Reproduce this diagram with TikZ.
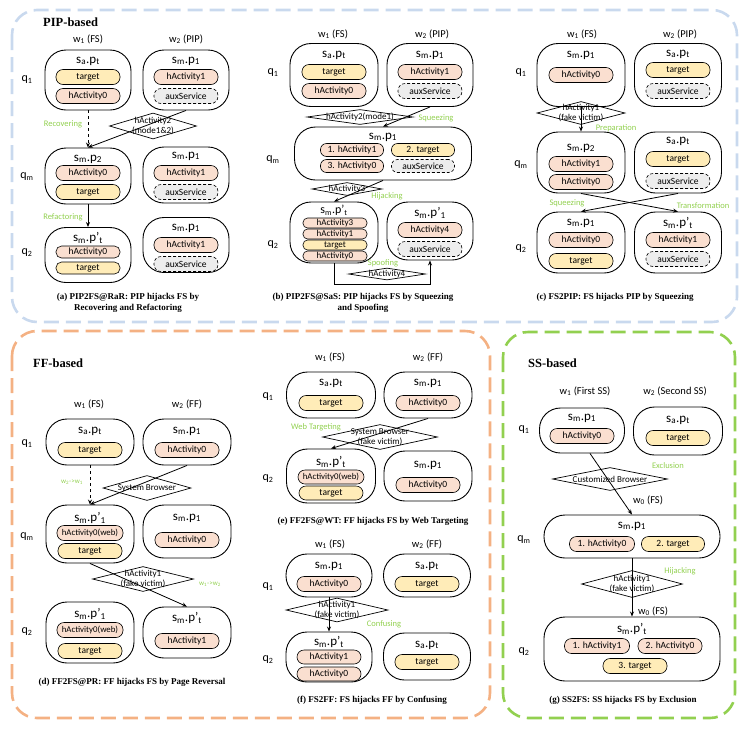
\documentclass[tikz,border=0pt]{standalone}
\usepackage{fontspec}
\setmainfont{Carlito}
\newfontfamily\capfont{Liberation Serif}
\usetikzlibrary{arrows.meta,shapes.geometric}
\definecolor{tgtc}{HTML}{FFECB8}
\definecolor{actc}{HTML}{FADFD0}
\definecolor{auxc}{HTML}{EDEDED}
\definecolor{grn}{HTML}{92D050}
\definecolor{pipc}{HTML}{C9D9EE}
\definecolor{ffc}{HTML}{F4B183}
\definecolor{ssc}{HTML}{92D050}
\newcommand\spx[2]{s\textsubscript{#1}.p\textsubscript{#2}}
\newcommand\sppx[2]{s\textsubscript{#1}.p'\textsubscript{#2}}
\tikzset{
 stbox/.style={draw, line width=0.9pt, rounded corners=21pt, inner sep=0pt},
 pill/.style={draw, line width=0.6pt, rounded corners=7pt, minimum width=64pt, minimum height=15pt, inner sep=0pt, font=\fontsize{9.5}{9.5}\selectfont},
 tg/.style={pill, fill=tgtc},
 ac/.style={pill, fill=actc},
 ax/.style={pill, fill=auxc, dash pattern=on 3pt off 2pt},
 webp/.style={minimum width=66pt, font=\fontsize{8.8}{8.8}\selectfont},
 spill/.style={minimum height=10pt, rounded corners=4.5pt, font=\fontsize{9}{9}\selectfont},
 mpill/.style={minimum height=13pt, rounded corners=6pt},
 ttl/.style={font=\fontsize{13}{13}\selectfont, inner sep=0pt},
 wlab/.style={font=\fontsize{10.5}{10.5}\selectfont, inner sep=0pt},
 qlab/.style={font=\fontsize{12}{12}\selectfont, inner sep=0pt},
 glab/.style={text=grn, font=\fontsize{8.5}{8.5}\selectfont, inner sep=0pt},
 dia/.style={draw, shape=diamond, line width=0.7pt, inner sep=0pt},
 dtx/.style={align=center, font=\fontsize{9}{9.5}\selectfont, inner sep=0pt},
 captxt/.style={align=center, font=\capfont\bfseries\fontsize{9}{11}\selectfont, inner sep=0pt},
 sec/.style={anchor=west, font=\capfont\bfseries\fontsize{12.5}{12.5}\selectfont, inner sep=0pt},
 conn/.style={line width=0.8pt, -{Stealth[length=5pt,width=4pt]}},
 frm/.style={line width=2.6pt, dash pattern=on 15pt off 7pt, rounded corners=25pt},
}
\begin{document}
\begin{tikzpicture}[x=1pt,y=-1pt]
\useasboundingbox (0,0) rectangle (747,729);
% frames
\draw[frm, pipc] (12,10) rectangle (737,322);
\draw[frm, ffc] (12,331) rectangle (490,718);
\draw[frm, ssc] (503,332) rectangle (735,718);
\node[sec] (tpip) at (43,22) {PIP-based};
\node[sec] (tff) at (33,363) {FF-based};
\node[sec] (tss) at (528,363) {SS-based};

%%%%%%%% (a)
\node[wlab] (aw1) at (88,39) {w\textsubscript{1} (FS)};
\node[wlab] (aw2) at (186,39) {w\textsubscript{2} (PIP)};
\node[qlab] (aq1) at (27,80) {q\textsubscript{1}};
\node[qlab] (aqm) at (27,177) {q\textsubscript{m}};
\node[qlab] (aq2) at (27,253) {q\textsubscript{2}};
\node[stbox, minimum width=86pt, minimum height=60pt] (a11) at (88,80) {};
\node[ttl] (a11t) at (88,61) {\spx{a}{t}};
\node[tg] (a11a) at (88,77) {target};
\node[ac] (a11b) at (88,96) {hActivity0};
\node[stbox, minimum width=86pt, minimum height=60pt] (a12) at (186,80) {};
\node[ttl] (a12t) at (186,61) {\spx{m}{1}};
\node[ac] (a12a) at (186,77) {hActivity1};
\node[ax] (a12b) at (186,96) {auxService};
\node[stbox, minimum width=86pt, minimum height=56pt] (a21) at (88,176) {};
\node[ttl] (a21t) at (88,159) {\spx{m}{2}};
\node[ac] (a21a) at (88,173) {hActivity0};
\node[tg] (a21b) at (88,192) {target};
\node[stbox, minimum width=86pt, minimum height=56pt] (a22) at (186,175) {};
\node[ttl] (a22t) at (186,156) {\spx{m}{1}};
\node[ac] (a22a) at (186,173) {hActivity1};
\node[ax] (a22b) at (186,192) {auxService};
\node[stbox, minimum width=86pt, minimum height=55pt] (a31) at (88,255) {};
\node[ttl] (a31t) at (88,238) {\sppx{m}{t}};
\node[ac, minimum height=12pt, rounded corners=5.5pt] (a31a) at (88,252) {hActivity0};
\node[tg, minimum height=12pt, rounded corners=5.5pt] (a31b) at (88,268) {target};
\node[stbox, minimum width=86pt, minimum height=55pt] (a32) at (186,245) {};
\node[ttl] (a32t) at (186,228) {\spx{m}{1}};
\node[ac] (a32a) at (186,245) {hActivity1};
\node[ax] (a32b) at (186,264) {auxService};
\draw[conn, dashed] (a11.south) -- (a21.north);
\draw[conn] (a12.south) -- (a21.north);
\node[dia, minimum width=87pt, minimum height=26pt] (ad1) at (153,126) {};
\node[dtx] (ad1t) at (ad1) {hActivity2\\(mode1\&2)};
\node[glab] (ag1) at (63,124) {Recovering};
\draw[conn] (a21.south) -- (a31.north);
\node[glab] (ag2) at (63,217) {Refactoring};
\node[captxt] (acap) at (128,302.5) {(a) PIP2FS@RaR: PIP hijacks FS by\\Recovering and Refactoring};

%%%%%%%% (b)
\node[wlab] (bw1) at (333,34) {w\textsubscript{1} (FS)};
\node[wlab] (bw2) at (432,34) {w\textsubscript{2} (PIP)};
\node[qlab] (bq1) at (273,73) {q\textsubscript{1}};
\node[qlab] (bqm) at (273,160) {q\textsubscript{m}};
\node[qlab] (bq2) at (273,245) {q\textsubscript{2}};
\node[stbox, minimum width=88pt, minimum height=63pt] (b11) at (334,75) {};
\node[ttl] (b11t) at (334,55) {\spx{a}{t}};
\node[tg] (b11a) at (334,72) {target};
\node[ac] (b11b) at (334,91) {hActivity0};
\node[stbox, minimum width=86pt, minimum height=63pt] (b12) at (430,75) {};
\node[ttl] (b12t) at (430,55) {\spx{m}{1}};
\node[ac] (b12a) at (430,72) {hActivity1};
\node[ax] (b12b) at (430,91) {auxService};
\node[stbox, minimum width=177pt, minimum height=53pt] (b2) at (383,153.5) {};
\node[ttl] (b2t) at (383,137) {\spx{m}{1}};
\node[ac, mpill, minimum width=63pt] (b2a) at (352,150) {1. hActivity1};
\node[tg, mpill, minimum width=63pt] (b2b) at (423,150) {2. target};
\node[ac, mpill, minimum width=63pt] (b2c) at (352,166) {3. hActivity0};
\node[ax, mpill, minimum width=63pt] (b2d) at (423,166) {auxService};
\draw[conn] (b12.south) -- (b2.north);
\node[dia, minimum width=106pt, minimum height=15pt] (bd1) at (360,117) {};
\node[dtx] (bd1t) at (bd1) {hActivity2(mode1)};
\node[glab] (bg1) at (436,118) {Squeezing};
\node[stbox, minimum width=88pt, minimum height=61pt] (b31) at (334,232.5) {};
\node[ttl, font=\fontsize{12}{12}\selectfont] (b31t) at (334,210) {\sppx{m}{t}};
\node[ac, spill] (b31a) at (335,223) {hActivity3};
\node[ac, spill] (b31b) at (335,234) {hActivity1};
\node[tg, spill] (b31c) at (335,245) {target};
\node[ac, spill] (b31d) at (335,256) {hActivity0};
\node[stbox, minimum width=86pt, minimum height=58pt] (b32) at (430,231) {};
\node[ttl] (b32t) at (430,213) {\sppx{m}{1}};
\node[ac] (b32a) at (430,230) {hActivity4};
\node[ax] (b32b) at (430,249) {auxService};
\draw[conn] (b2.south) -- (b31.north);
\node[dia, minimum width=70pt, minimum height=13pt] (bd2) at (347,189) {};
\node[dtx] (bd2t) at (bd2) {hActivity3};
\node[glab] (bg2) at (387,196) {Hijacking};
\draw[conn] (b31.south) -- ++(0,21) -| (b32.south);
\node[dia, minimum width=77pt, minimum height=12pt] (bd3) at (387,274) {};
\node[dtx] (bd3t) at (bd3) {hActivity4};
\node[glab] (bg3) at (383,263) {Spoofing};
\node[captxt] (bcap) at (363,302.5) {(b) PIP2FS@SaS: PIP hijacks FS by Squeezing\\and Spoofing};

%%%%%%%% (c)
\node[wlab] (cw1) at (582,34) {w\textsubscript{1} (FS)};
\node[wlab] (cw2) at (680,34) {w\textsubscript{2} (PIP)};
\node[qlab] (cq1) at (521,73) {q\textsubscript{1}};
\node[qlab] (cqm) at (521,165) {q\textsubscript{m}};
\node[qlab] (cq2) at (521,249) {q\textsubscript{2}};
\node[stbox, minimum width=88pt, minimum height=63pt] (c11) at (581,75) {};
\node[ttl] (c11t) at (581,55) {\spx{m}{1}};
\node[ac] (c11a) at (581,75) {hActivity0};
\node[stbox, minimum width=87pt, minimum height=63pt] (c12) at (678,75) {};
\node[ttl] (c12t) at (678,54) {\spx{a}{t}};
\node[tg] (c12a) at (678,70) {target};
\node[ax] (c12b) at (678,91) {auxService};
\node[stbox, minimum width=88pt, minimum height=61pt] (c21) at (581,162.5) {};
\node[ttl] (c21t) at (581,148) {\spx{m}{2}};
\node[ac] (c21a) at (581,164) {hActivity1};
\node[ac] (c21b) at (581,182) {hActivity0};
\node[stbox, minimum width=87pt, minimum height=61pt] (c22) at (678,162.5) {};
\node[ttl] (c22t) at (678,141) {\spx{a}{t}};
\node[tg] (c22a) at (678,159) {target};
\node[ax] (c22b) at (678,181) {auxService};
\node[stbox, minimum width=88pt, minimum height=61pt] (c31) at (581,242.5) {};
\node[ttl] (c31t) at (581,223) {\spx{m}{1}};
\node[ac] (c31a) at (581,240) {hActivity0};
\node[tg] (c31b) at (581,261) {target};
\node[stbox, minimum width=87pt, minimum height=61pt] (c32) at (678,242.5) {};
\node[ttl] (c32t) at (678,223) {\sppx{m}{t}};
\node[ac] (c32a) at (678,240) {hActivity1};
\node[ax] (c32b) at (678,259) {auxService};
\draw[conn] (c11.south) -- (c21.north);
\node[dia, minimum width=88pt, minimum height=23pt] (cd1) at (581,113) {};
\node[dtx] (cd1t) at (cd1) {hActivity1\\(fake victim)};
\node[glab] (cg1) at (616,128) {Preparation};
\draw[conn] (c21.south) -- (c32.north);
\draw[conn] (c22.south) -- (c31.north);
\node[glab] (cg2) at (567,203) {Squeezing};
\node[glab] (cg3) at (703,206) {Transformation};
\node[captxt] (ccap) at (615,297) {(c) FS2PIP: FS hijacks PIP by Squeezing};

%%%%%%%% (d)
\node[wlab] (dw1) at (89,404) {w\textsubscript{1} (FS)};
\node[wlab] (dw2) at (187,404) {w\textsubscript{2} (FF)};
\node[qlab] (dq1) at (27,444) {q\textsubscript{1}};
\node[qlab] (dqm) at (27,537) {q\textsubscript{m}};
\node[qlab] (dq2) at (27,632) {q\textsubscript{2}};
\node[stbox, minimum width=88pt, minimum height=46pt] (d11) at (90,442) {};
\node[ttl] (d11t) at (90,431) {\spx{a}{t}};
\node[tg] (d11a) at (90,450) {target};
\node[stbox, minimum width=88pt, minimum height=46pt] (d12) at (187,442) {};
\node[ttl] (d12t) at (187,431) {\spx{m}{1}};
\node[ac] (d12a) at (187,450) {hActivity0};
\node[stbox, minimum width=88pt, minimum height=58pt] (d21) at (90,534) {};
\node[ttl] (d21t) at (90,518) {\sppx{m}{1}};
\node[ac, webp] (d21a) at (90,533) {hActivity0(web)};
\node[tg] (d21b) at (90,551) {target};
\node[stbox, minimum width=88pt, minimum height=53pt] (d22) at (187,531.5) {};
\node[ttl] (d22t) at (187,518) {\spx{m}{1}};
\node[ac] (d22a) at (187,540) {hActivity0};
\node[stbox, minimum width=88pt, minimum height=61pt] (d31) at (90,632.5) {};
\node[ttl] (d31t) at (90,614) {\sppx{m}{1}};
\node[ac, webp] (d31a) at (90,630) {hActivity0(web)};
\node[tg] (d31b) at (90,651) {target};
\node[stbox, minimum width=88pt, minimum height=51pt] (d32) at (187,632.5) {};
\node[ttl] (d32t) at (187,618) {\sppx{m}{t}};
\node[ac] (d32a) at (187,641) {hActivity1};
\draw[conn, dashed] (d11.south) -- (d21.north);
\node[glab, font=\fontsize{7}{7}\selectfont] (dg1) at (72,482) {w\textsubscript{2}->w\textsubscript{1}};
\draw[conn] (d12.south) -- (d21.north);
\node[dia, minimum width=88pt, minimum height=25pt] (dd1) at (147,488) {};
\node[dtx] (dd1t) at (dd1) {System Browser};
\draw[conn] (d21.south) -- (d32.north);
\node[dia, minimum width=101pt, minimum height=25pt] (dd2) at (143,579) {};
\node[dtx] (dd2t) at (dd2) {hActivity1\\(fake victim)};
\node[glab, font=\fontsize{7}{7}\selectfont] (dg2) at (210,584) {w\textsubscript{1}->w\textsubscript{2}};
\node[captxt] (dcap) at (132,682) {(d) FF2FS@PR: FF hijacks FS by Page Reversal};

%%%%%%%% (e)
\node[wlab] (ew1) at (330,357) {w\textsubscript{1} (FS)};
\node[wlab] (ew2) at (428,357) {w\textsubscript{2} (FF)};
\node[qlab] (eq1) at (268,397) {q\textsubscript{1}};
\node[qlab] (eq2) at (268,479) {q\textsubscript{2}};
\node[stbox, minimum width=89pt, minimum height=46pt] (e11) at (331,395) {};
\node[ttl] (e11t) at (331,383) {\spx{a}{t}};
\node[tg] (e11a) at (331,403) {target};
\node[stbox, minimum width=88pt, minimum height=46pt] (e12) at (428,395) {};
\node[ttl] (e12t) at (428,383) {\spx{m}{1}};
\node[ac] (e12a) at (428,403) {hActivity0};
\node[stbox, minimum width=89pt, minimum height=54pt] (e21) at (331,476) {};
\node[ttl] (e21t) at (331,462) {\sppx{m}{t}};
\node[ac, webp, minimum height=14pt] (e21a) at (331,477) {hActivity0(web)};
\node[tg, minimum height=14pt] (e21b) at (331,493) {target};
\node[stbox, minimum width=88pt, minimum height=50pt] (e22) at (428,476) {};
\node[ttl] (e22t) at (428,465) {\spx{m}{1}};
\node[ac] (e22a) at (428,485) {hActivity0};
\draw[conn] (e12.south) -- (e21.north);
\node[dia, minimum width=115pt, minimum height=25pt] (ed1) at (380,437) {};
\node[dtx] (ed1t) at (ed1) {System Browser\\(fake victim)};
\node[glab] (eg1) at (316,427) {Web Targeting};
\node[captxt] (ecap) at (373,521) {(e) FF2FS@WT: FF hijacks FS by Web Targeting};

%%%%%%%% (f)
\node[wlab] (fw1) at (330,544) {w\textsubscript{1} (FS)};
\node[wlab] (fw2) at (427,544) {w\textsubscript{2} (FF)};
\node[qlab] (fq1) at (268,587) {q\textsubscript{1}};
\node[qlab] (fq2) at (268,660) {q\textsubscript{2}};
\node[stbox, minimum width=86pt, minimum height=43pt] (f11) at (329,575.5) {};
\node[ttl] (f11t) at (329,566) {\spx{m}{1}};
\node[ac] (f11a) at (329,584) {hActivity0};
\node[stbox, minimum width=87pt, minimum height=43pt] (f12) at (427,575.5) {};
\node[ttl] (f12t) at (427,566) {\spx{a}{t}};
\node[tg] (f12a) at (427,584) {target};
\node[stbox, minimum width=86pt, minimum height=50pt] (f21) at (329,657) {};
\node[ttl] (f21t) at (329,642) {\sppx{m}{t}};
\node[ac, minimum height=14pt] (f21a) at (329,657) {hActivity1};
\node[ac, minimum height=14pt] (f21b) at (329,674) {hActivity0};
\node[stbox, minimum width=87pt, minimum height=47pt] (f22) at (427,656.5) {};
\node[ttl] (f22t) at (427,645) {\spx{a}{t}};
\node[tg] (f22a) at (427,662) {target};
\draw[conn] (f11.south) -- (f21.north);
\node[dia, minimum width=102pt, minimum height=24pt] (fd1) at (337,610) {};
\node[dtx] (fd1t) at (fd1) {hActivity1\\(fake victim)};
\node[glab] (fg1) at (384,624) {Confusing};
\node[captxt] (fcap) at (372,700) {(f) FS2FF: FS hijacks FF by Confusing};

%%%%%%%% (g)
\node[wlab] (gw1) at (585,391) {w\textsubscript{1} (First SS)};
\node[wlab] (gw2) at (675,391) {w\textsubscript{2} (Second SS)};
\node[qlab] (gq1) at (524,430) {q\textsubscript{1}};
\node[qlab] (gqm) at (524,540) {q\textsubscript{m}};
\node[qlab] (gq2) at (524,652) {q\textsubscript{2}};
\node[stbox, minimum width=85pt, minimum height=45pt] (g11) at (582,430.5) {};
\node[ttl] (g11t) at (582,418) {\spx{m}{1}};
\node[ac] (g11a) at (582,436) {hActivity0};
\node[stbox, minimum width=89pt, minimum height=48pt] (g12) at (678,431) {};
\node[ttl] (g12t) at (678,420) {\spx{a}{t}};
\node[tg] (g12a) at (678,438) {target};
\node[stbox, minimum width=176pt, minimum height=43pt] (g2) at (632,536.5) {};
\node[ttl] (g2t) at (632,526) {\spx{m}{1}};
\node[ac, minimum width=65pt] (g2a) at (602,544) {1. hActivity0};
\node[tg, minimum width=63pt] (g2b) at (673,544) {2. target};
\node[stbox, minimum width=176pt, minimum height=64pt] (g3) at (632,649) {};
\node[ttl] (g3t) at (632,629) {\sppx{m}{t}};
\node[ac, minimum width=65pt] (g3a) at (597,646) {1. hActivity1};
\node[ac, minimum width=64pt] (g3b) at (670,646) {2. hActivity0};
\node[tg, minimum width=64pt] (g3c) at (635,666) {3. target};
\draw[conn] ([xshift=8pt]g11.south) -- (g2.north);
\node[dia, minimum width=115pt, minimum height=23pt] (gd1) at (610,479) {};
\node[dtx] (gd1t) at (gd1) {Customized Browser};
\node[glab] (gg1) at (668,466) {Exclusion};
\node[wlab] (gw0a) at (648,500) {w\textsubscript{0} (FS)};
\draw[conn] (g2.south) -- (g3.north);
\node[dia, minimum width=101pt, minimum height=27pt] (gd2) at (632,584) {};
\node[dtx] (gd2t) at (gd2) {hActivity1\\(fake victim)};
\node[glab] (gg2) at (680,571) {Hijacking};
\node[wlab] (gw0b) at (653,611) {w\textsubscript{0} (FS)};
\node[captxt] (gcap) at (623,700) {(g) SS2FS: SS hijacks FS by Exclusion};
\end{tikzpicture}
\end{document}
